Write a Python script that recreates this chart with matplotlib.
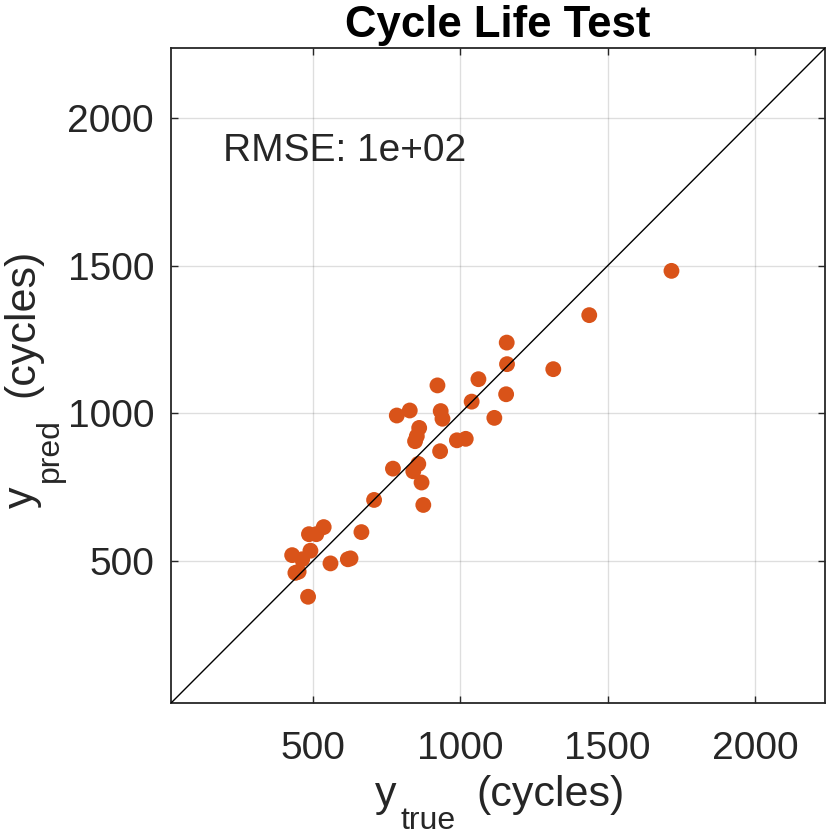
import numpy as np
import matplotlib
matplotlib.use("Agg")
import matplotlib.pyplot as plt

plt.rcParams['font.family'] = ['Liberation Sans', 'DejaVu Sans']

# values
y_true = [1158, 1159, 1316, 1438, 1717, 923, 1062, 1156, 1039, 1116,
          785, 829, 934, 940, 861, 853, 847, 989, 1019, 932,
          772, 858, 841, 869, 875, 708, 665, 537, 512, 487,
          492, 430, 464, 452, 441, 560, 619, 628, 484]
y_pred = [1240, 1167, 1150, 1333, 1483, 1095, 1116, 1065, 1040, 985,
          993, 1010, 1008, 982, 951, 923, 906, 909, 914, 872,
          813, 829, 804, 766, 690, 707, 598, 615, 591, 591,
          535, 520, 506, 464, 460, 492, 506, 509, 379]
lims = [18, 2238]
ticks = [500, 1000, 1500, 2000]
rmse_text = 'RMSE: 1e+02'

W, H = 830, 836
axcol = '#262626'
fig = plt.figure(figsize=(W / 100, H / 100), dpi=100)
ax = fig.add_axes([0.2057, 0.1587, 0.7883, 0.7839])

ax.scatter(y_true, y_pred, s=130, color='#D95319', edgecolors='none', zorder=3)
ax.plot(lims, lims, color='k', lw=1.0, zorder=4)

ax.set_xlim(lims)
ax.set_ylim(lims)
ax.set_xticks(ticks)
ax.set_yticks(ticks)
ax.grid(True, color=axcol, alpha=0.15, lw=1.0)
ax.set_axisbelow(True)

for sp in ax.spines.values():
    sp.set_color(axcol)
    sp.set_linewidth(1.3)
ax.tick_params(direction='in', length=5, width=1.0, color=axcol,
               top=True, right=True, labelsize=28, labelcolor=axcol)
ax.tick_params(axis='x', pad=20)
ax.tick_params(axis='y', pad=12)

ax.text(195, 1890, rmse_text, fontsize=28, color=axcol, va='center', ha='left')

ax.set_title('Cycle Life Test', fontsize=31.5, fontweight='bold', color='k', pad=8)


# axis labels with MATLAB-style deep subscripts, placed in figure pixels
def ftext(px, py, s, size, rot=0):
    fig.text(px / W, 1 - py / H, s, fontsize=size, color=axcol, rotation=rot,
             rotation_mode='anchor', ha='left', va='baseline')

ftext(375, 806, 'y', 31)
ftext(400, 829, 'true', 23)
ftext(476, 806, '(cycles)', 31)

ftext(33, 508, 'y', 31, 90)
ftext(58, 482, 'pred', 23, 90)
ftext(33, 397, '(cycles)', 31, 90)

fig.savefig('out.png', dpi=100)
